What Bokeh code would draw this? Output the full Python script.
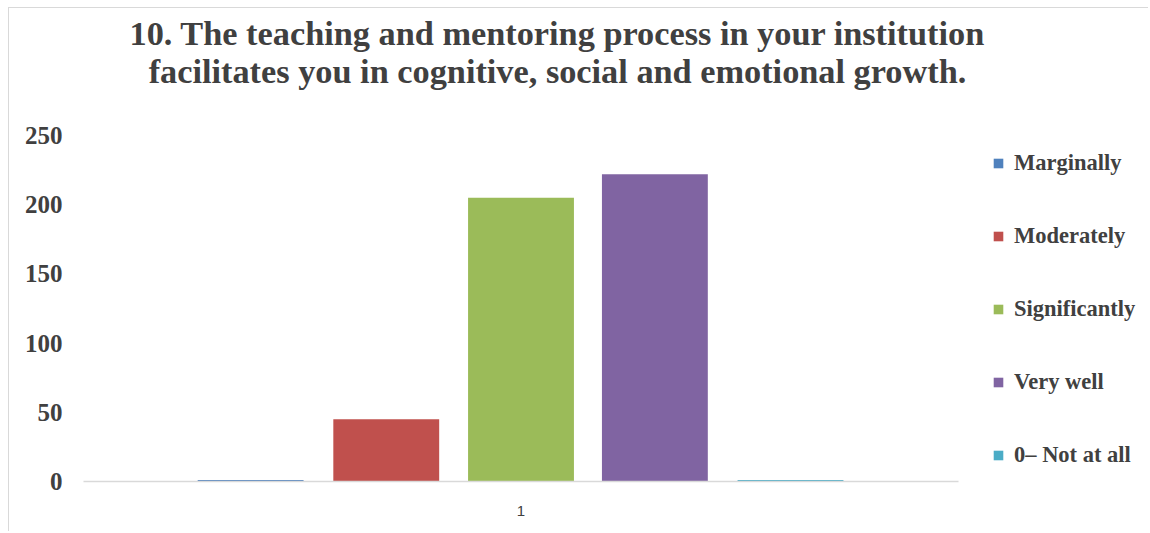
from bokeh.plotting import figure
from bokeh.models import Range1d, Label, Legend, LegendItem, FixedTicker
from bokeh.embed import file_html
from bokeh.resources import INLINE

# ---- data ----
title_lines = ["10. The teaching and mentoring process in your institution",
               "facilitates you in cognitive, social and emotional growth."]
categories = ["1"]
series = ["Marginally", "Moderately", "Significantly", "Very well", "0\u2013 Not at all"]
values = [1, 45, 205, 222, 1]
colors = ["#4F81BD", "#C0504D", "#9BBB59", "#8064A2", "#4BACC6"]
y_ticks = [0, 50, 100, 150, 200, 250]

# ---- layout (pixels) ----
W, H = 1140, 524
ML, MR, MT, MB = 74, 0, 0, 51
frame_w = W - ML - MR
frame_h = H - MT - MB
cat_px = 875          # width of the category band in pixels
val_px = 346          # pixels for 0..250
y_end = 250 * frame_h / val_px
x_end = frame_w / cat_px

p = figure(width=W, height=H, x_range=Range1d(0, x_end), y_range=Range1d(0, y_end),
           output_backend="svg", toolbar_location=None,
           min_border_left=ML, min_border_right=MR, min_border_top=MT, min_border_bottom=MB)

offsets = [-0.309, -0.154, 0.0, 0.153, 0.308]
items = []
for s, v, c, o in zip(series, values, colors, offsets):
    xs = [i + 0.5 + o for i, _ in enumerate(categories)]
    r = p.vbar(x=xs, top=[v], width=0.121, color=c, line_color=None)
    items.append(LegendItem(label=s, renderers=[r]))

legend = Legend(items=items, location=(909, 13), glyph_width=12, glyph_height=12,
                label_text_font="Liberation Serif", label_text_font_style="bold",
                label_text_font_size="22.5px", label_text_color="#404040",
                label_standoff=10, spacing=47, padding=0, margin=0,
                border_line_color=None, background_fill_alpha=0)
p.add_layout(legend, "center")

for txt, yb in zip(title_lines, [449, 411]):
    p.add_layout(Label(x=474, y=yb, x_units="screen", y_units="screen", text=txt,
                       text_align="center", text_baseline="alphabetic",
                       text_font="Liberation Serif", text_font_style="bold",
                       text_font_size="34.3px", text_color="#404040"))

p.xgrid.grid_line_color = None
p.ygrid.grid_line_color = None
p.outline_line_color = None

p.yaxis.ticker = FixedTicker(ticks=y_ticks)
p.yaxis.axis_line_color = None
p.yaxis.major_tick_line_color = None
p.yaxis.minor_tick_line_color = None
p.yaxis.major_label_text_font = "Liberation Serif"
p.yaxis.major_label_text_font_style = "bold"
p.yaxis.major_label_text_font_size = "25px"
p.yaxis.major_label_text_color = "#404040"
p.yaxis.major_label_standoff = 15

p.xaxis.ticker = FixedTicker(ticks=[i + 0.5 for i, _ in enumerate(categories)])
p.xaxis.major_label_overrides = {i + 0.5: c for i, c in enumerate(categories)}
p.xaxis.bounds = (0, len(categories))
p.xaxis.axis_line_color = "#d9d9d9"
p.xaxis.axis_line_width = 1.5
p.xaxis.major_tick_line_color = None
p.xaxis.minor_tick_line_color = None
p.xaxis.major_label_text_font = "Liberation Sans"
p.xaxis.major_label_text_font_size = "15px"
p.xaxis.major_label_text_color = "#404040"
p.xaxis.major_label_standoff = 18

p.styles = {"margin-left": "8px", "margin-top": "7px",
            "border-left": "1px solid #d9d9d9", "border-top": "1px solid #d9d9d9"}

open("out.html", "w").write(file_html(p, INLINE))
